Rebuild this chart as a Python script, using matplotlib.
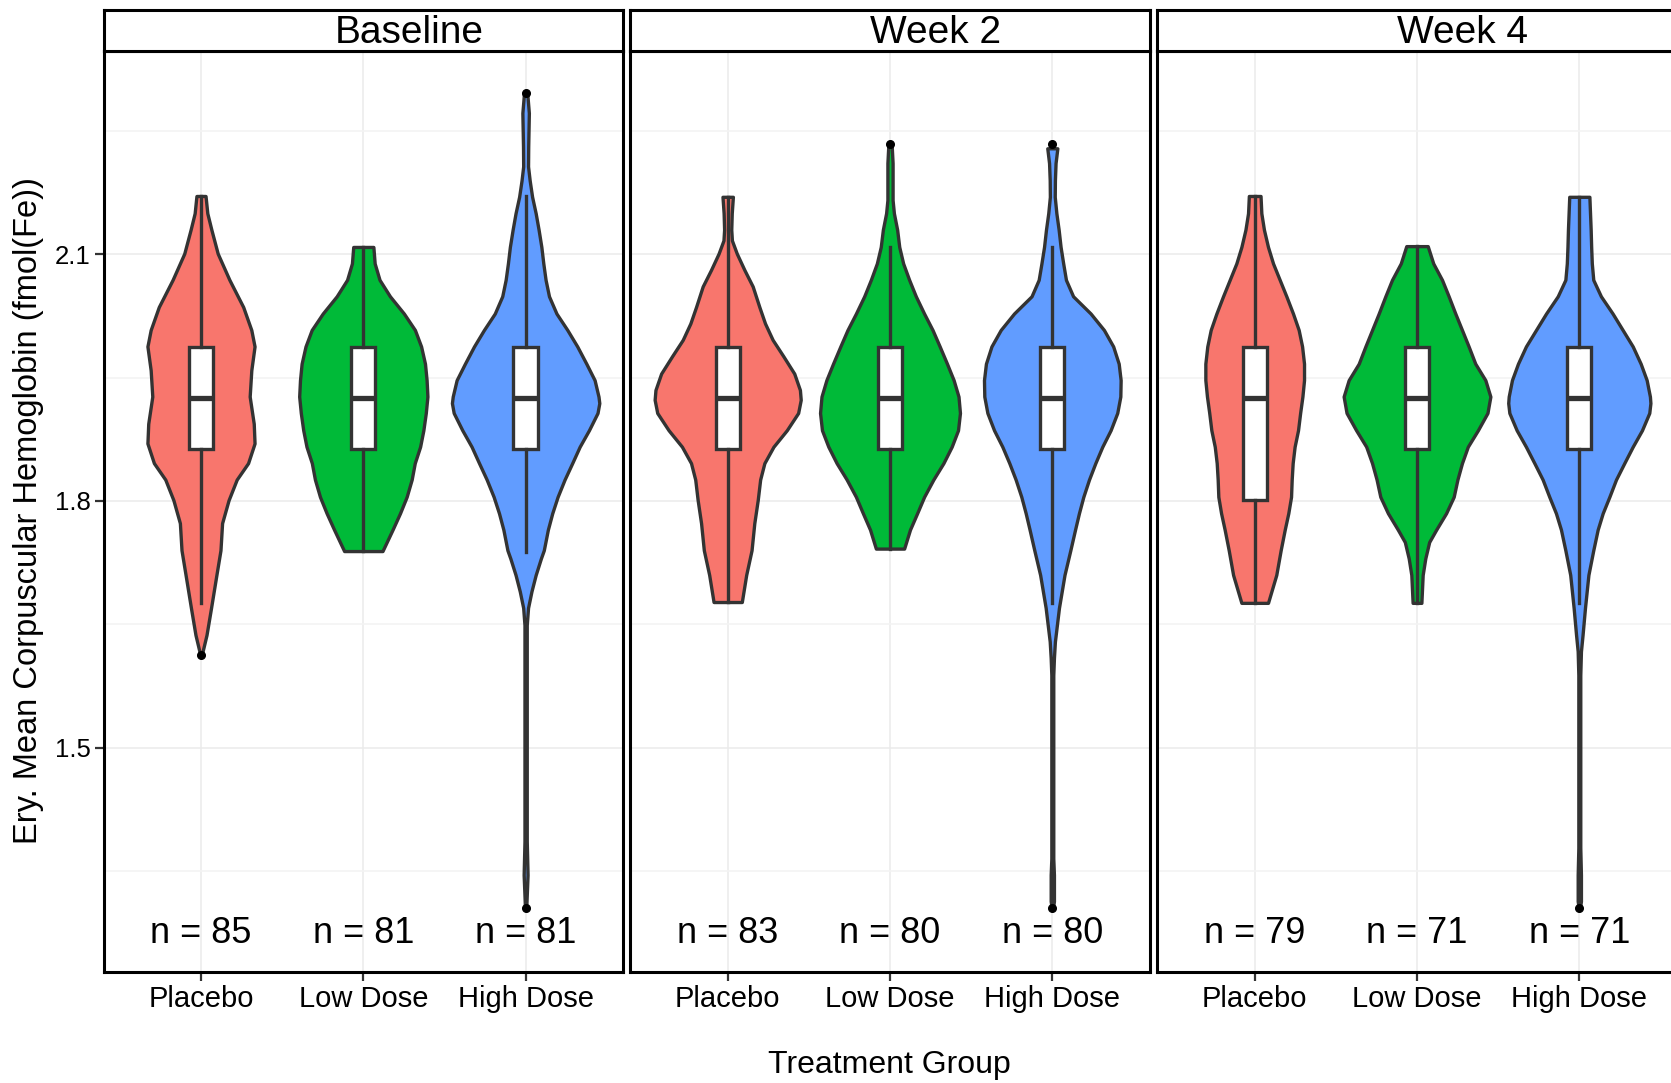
import numpy as np
import matplotlib
matplotlib.use('Agg')
import matplotlib.pyplot as plt
from matplotlib.ticker import FixedLocator

plt.rcParams['font.family'] = ['Liberation Sans', 'DejaVu Sans']

# --- data ---
panels = ['Baseline', 'Week 2', 'Week 4']
groups = ['Placebo', 'Low Dose', 'High Dose']
colors = ['#F8766D', '#00BA38', '#619CFF']
n_counts = [[85, 81, 81], [83, 80, 80], [79, 71, 71]]

# violin outlines: value levels (top -> bottom) and half widths (x units)
bl_placebo_y = [2.171, 2.150, 2.130, 2.101, 2.069, 2.036, 2.008, 1.988, 1.959, 1.927, 1.894,
                1.870, 1.846, 1.826, 1.801, 1.773, 1.740, 1.710, 1.670, 1.637, 1.613]
bl_placebo_w = [0.028, 0.039, 0.064, 0.103, 0.175, 0.260, 0.310, 0.330, 0.310, 0.300, 0.325,
                0.330, 0.290, 0.220, 0.170, 0.130, 0.120, 0.095, 0.062, 0.034, 0.005]
bl_low_y = [2.109, 2.089, 2.069, 2.049, 2.028, 2.008, 1.988, 1.967, 1.947, 1.927, 1.907,
            1.886, 1.866, 1.846, 1.826, 1.805, 1.785, 1.765, 1.739]
bl_low_w = [0.062, 0.070, 0.100, 0.164, 0.250, 0.318, 0.356, 0.380, 0.390, 0.395, 0.385,
            0.370, 0.350, 0.317, 0.298, 0.267, 0.226, 0.180, 0.118]
bl_high_y = [2.296, 2.272, 2.231, 2.207, 2.190, 2.170, 2.150, 2.130, 2.109, 2.089, 2.069,
             2.049, 2.028, 2.008, 1.988, 1.967, 1.947, 1.927, 1.919, 1.907, 1.886, 1.866,
             1.846, 1.826, 1.805, 1.785, 1.765, 1.740, 1.730, 1.710, 1.690, 1.670, 1.649,
             1.548, 1.386, 1.345, 1.305]
bl_high_w = [0.010, 0.020, 0.016, 0.015, 0.025, 0.040, 0.062, 0.080, 0.097, 0.109, 0.123,
             0.144, 0.190, 0.257, 0.318, 0.374, 0.425, 0.449, 0.454, 0.443, 0.390, 0.333,
             0.287, 0.240, 0.197, 0.164, 0.137, 0.112, 0.094, 0.062, 0.036, 0.015, 0.007,
             0.007, 0.007, 0.012, 0.004]

w2_placebo_y = [2.170, 2.150, 2.130, 2.117, 2.101, 2.081, 2.061, 2.036, 2.016, 1.996, 1.976,
                1.955, 1.935, 1.923, 1.907, 1.886, 1.866, 1.846, 1.826, 1.801, 1.773, 1.740,
                1.710, 1.677]
w2_placebo_w = [0.032, 0.025, 0.022, 0.026, 0.056, 0.103, 0.154, 0.195, 0.230, 0.277, 0.343,
                0.410, 0.445, 0.450, 0.434, 0.364, 0.282, 0.226, 0.200, 0.185, 0.164, 0.147,
                0.114, 0.087]
w2_low_y = [2.234, 2.211, 2.166, 2.150, 2.130, 2.109, 2.089, 2.069, 2.049, 2.028, 2.008,
            1.988, 1.967, 1.947, 1.927, 1.907, 1.886, 1.866, 1.846, 1.826, 1.805, 1.785,
            1.765, 1.742]
w2_low_w = [0.010, 0.016, 0.016, 0.024, 0.044, 0.057, 0.081, 0.118, 0.159, 0.210, 0.262,
            0.306, 0.351, 0.392, 0.422, 0.431, 0.419, 0.380, 0.329, 0.267, 0.210, 0.167,
            0.123, 0.087]
w2_high_y = [2.229, 2.211, 2.190, 2.170, 2.150, 2.130, 2.109, 2.089, 2.069, 2.049, 2.028,
             2.008, 1.988, 1.967, 1.947, 1.927, 1.907, 1.886, 1.866, 1.846, 1.826, 1.805,
             1.785, 1.765, 1.740, 1.710, 1.670, 1.629, 1.609, 1.588, 1.365, 1.345, 1.313,
             1.305]
w2_high_w = [0.031, 0.020, 0.016, 0.015, 0.025, 0.039, 0.051, 0.067, 0.084, 0.128, 0.236,
             0.318, 0.375, 0.409, 0.421, 0.419, 0.400, 0.359, 0.308, 0.265, 0.226, 0.191,
             0.164, 0.140, 0.111, 0.075, 0.041, 0.016, 0.010, 0.006, 0.006, 0.010, 0.010,
             0.004]

w4_placebo_y = [2.171, 2.150, 2.130, 2.109, 2.089, 2.069, 2.049, 2.028, 2.008, 1.988, 1.967,
                1.947, 1.927, 1.907, 1.886, 1.866, 1.846, 1.826, 1.805, 1.785, 1.765, 1.740,
                1.710, 1.676]
w4_placebo_w = [0.036, 0.041, 0.057, 0.082, 0.113, 0.154, 0.195, 0.236, 0.271, 0.292, 0.304,
                0.304, 0.294, 0.280, 0.267, 0.246, 0.234, 0.228, 0.224, 0.207, 0.185, 0.160,
                0.133, 0.082]
w4_low_y = [2.110, 2.089, 2.069, 2.049, 2.028, 2.008, 1.988, 1.967, 1.947, 1.927, 1.907,
            1.886, 1.866, 1.846, 1.826, 1.805, 1.785, 1.765, 1.750, 1.730, 1.710, 1.676]
w4_low_w = [0.066, 0.100, 0.154, 0.195, 0.236, 0.277, 0.318, 0.359, 0.421, 0.452, 0.434,
            0.375, 0.313, 0.277, 0.249, 0.226, 0.179, 0.118, 0.075, 0.051, 0.035, 0.027]
w4_high_y = [2.170, 2.150, 2.130, 2.109, 2.089, 2.069, 2.049, 2.028, 2.008, 1.988, 1.967,
             1.947, 1.927, 1.919, 1.907, 1.886, 1.866, 1.846, 1.826, 1.805, 1.785, 1.765,
             1.740, 1.710, 1.670, 1.637, 1.617, 1.588, 1.378, 1.345, 1.313, 1.305]
w4_high_w = [0.062, 0.066, 0.070, 0.073, 0.077, 0.086, 0.133, 0.205, 0.267, 0.329, 0.378,
             0.415, 0.435, 0.438, 0.431, 0.386, 0.329, 0.277, 0.226, 0.185, 0.144, 0.113,
             0.086, 0.056, 0.035, 0.020, 0.010, 0.006, 0.006, 0.010, 0.010, 0.004]

violin_y = [[bl_placebo_y, bl_low_y, bl_high_y],
            [w2_placebo_y, w2_low_y, w2_high_y],
            [w4_placebo_y, w4_low_y, w4_high_y]]
violin_w = [[bl_placebo_w, bl_low_w, bl_high_w],
            [w2_placebo_w, w2_low_w, w2_high_w],
            [w4_placebo_w, w4_low_w, w4_high_w]]

# box statistics per panel (Placebo, Low Dose, High Dose)
box_q1 = [[1.863, 1.863, 1.863], [1.863, 1.863, 1.863], [1.801, 1.863, 1.863]]
box_med = [[1.925, 1.925, 1.925], [1.925, 1.925, 1.925], [1.925, 1.925, 1.925]]
box_q3 = [[1.987, 1.987, 1.987], [1.987, 1.987, 1.987], [1.987, 1.987, 1.987]]
whisk_lo = [[1.676, 1.739, 1.738], [1.677, 1.742, 1.676], [1.676, 1.676, 1.676]]
whisk_hi = [[2.171, 2.109, 2.171], [2.170, 2.109, 2.109], [2.171, 2.110, 2.170]]
outliers = [[[1.613], [], [2.296, 1.305]],
            [[], [2.234], [2.234, 1.305]],
            [[], [], [1.305]]]

# --- layout (pixels of the 1671x1083 output) ---
W, H = 1671, 1083
fig = plt.figure(figsize=(W / 100, H / 100), dpi=100)
panel_left = [103.6, 630.3, 1157.3]
panel_w = 519.4
panel_top, panel_bot = 50.5, 971.5
strip_top = 9.5
EDGE = '#333333'
LW = 2.4

for i, name in enumerate(panels):
    ax = fig.add_axes([panel_left[i] / W, (H - panel_bot) / H,
                       panel_w / W, (panel_bot - panel_top) / H])
    ax.set_xlim(0.4, 3.6)
    ax.set_ylim(1.2275, 2.348)
    ax.set_axisbelow(True)

    ax.xaxis.set_major_locator(FixedLocator([1, 2, 3]))
    ax.yaxis.set_major_locator(FixedLocator([1.5, 1.8, 2.1]))
    ax.yaxis.set_minor_locator(FixedLocator([1.35, 1.65, 1.95, 2.25]))
    ax.grid(which='major', color='#EBEBEB', linewidth=1.1)
    ax.grid(which='minor', axis='y', color='#F3F3F3', linewidth=1.1)

    for j in range(3):
        y = np.array(violin_y[i][j])
        w = np.array(violin_w[i][j])
        ax.fill_betweenx(y, j + 1 - w, j + 1 + w, facecolor=colors[j],
                         edgecolor=EDGE, linewidth=LW, joinstyle='round', zorder=2)

    stats = []
    for j in range(3):
        stats.append(dict(med=box_med[i][j], q1=box_q1[i][j], q3=box_q3[i][j],
                          whislo=whisk_lo[i][j], whishi=whisk_hi[i][j],
                          fliers=outliers[i][j]))
    ax.bxp(stats, positions=[1, 2, 3], widths=0.15, patch_artist=True,
           showcaps=False, manage_ticks=False, zorder=3,
           boxprops=dict(facecolor='white', edgecolor=EDGE, linewidth=LW),
           medianprops=dict(color=EDGE, linewidth=3.8, solid_capstyle='butt'),
           whiskerprops=dict(color=EDGE, linewidth=LW),
           flierprops=dict(marker='o', markerfacecolor='black',
                           markeredgecolor='black', markersize=5.5))

    for j in range(3):
        ax.text(j + 1, 1.2625, f'n = {n_counts[i][j]}', ha='center',
                va='baseline', fontsize=26, color='black')

    ax.set_xticks([1, 2, 3])
    ax.set_xticklabels(groups)
    ax.tick_params(axis='x', which='major', length=6.5, width=1.6,
                   color=EDGE, labelsize=21, pad=3)
    ax.tick_params(axis='y', which='minor', length=0)
    if i == 0:
        ax.tick_params(axis='y', which='major', length=6.5, width=1.6,
                       color=EDGE, labelsize=18.5, pad=3)
    else:
        ax.tick_params(axis='y', which='major', length=0, labelleft=False)
    for sp in ax.spines.values():
        sp.set_linewidth(2.2)
        sp.set_color('black')

    # facet strip
    sax = fig.add_axes([panel_left[i] / W, (H - panel_top) / H,
                        panel_w / W, (panel_top - strip_top) / H])
    sax.set_xticks([])
    sax.set_yticks([])
    for sp in sax.spines.values():
        sp.set_linewidth(2.2)
        sp.set_color('black')
    sax.text(0.588, 0.42, name, transform=sax.transAxes, ha='center',
             va='center', fontsize=28)

fig.text(889.8 / W, (H - 1073) / H, 'Treatment Group', ha='center',
         va='baseline', fontsize=23)
fig.text(29 / W, (H - 510.5) / H, 'Ery. Mean Corpuscular Hemoglobin (fmol(Fe))',
         rotation=90, ha='center', va='center', fontsize=23.5)

fig.savefig('out.png', dpi=100)
